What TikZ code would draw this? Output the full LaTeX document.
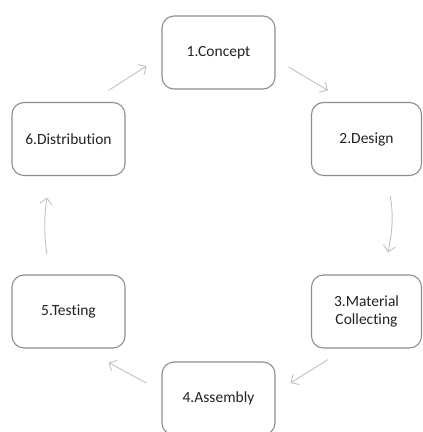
\documentclass[tikz,border=0pt]{standalone}
\usepackage{fontspec}
\setmainfont[Ligatures=NoCommon]{Carlito}
\usetikzlibrary{arrows.meta,calc}
\definecolor{boxline}{HTML}{8E8E8E}
\definecolor{arrline}{HTML}{C2C2C2}
\definecolor{txt}{HTML}{222222}
\begin{document}
\begin{tikzpicture}[x=1pt,y=-1pt,
  stage/.style={draw=boxline, line width=1.1pt, rounded corners=12pt, minimum width=113pt, minimum height=73pt, inner sep=0pt, align=center, text=txt, font=\fontsize{15.5}{18}\selectfont},
  narrow/.style={minimum width=110pt},
  arr/.style={draw=arrline, line width=0.9pt, -{Straight Barb[length=6pt,width=12pt]}}]
\useasboundingbox (0,0) rectangle (423,432);
\fill[white] (0,0) rectangle (423,432);
\node[stage] (c1) at (218.5,52.5) {1.Concept};
\node[stage,narrow] (c2) at (366.5,139) {2.Design};
\node[stage,narrow] (c3) at (366.5,311.5) {3.Material\\Collecting};
\node[stage] (c4) at (218.5,398.5) {4.Assembly};
\node[stage] (c5) at (68.5,311.5) {5.Testing};
\node[stage] (c6) at (68.5,139) {6.Distribution};
\draw[arr] ($(c1.east)+(13,14.5)$) -- ($(c2.north west)+(17,-11.5)$);
\draw[arr] ($(c2.south)+(23.5,19.5)$) .. controls +(4,19) and +(4,-19) .. ($(c3.north)+(21.5,-22)$);
\draw[arr] ($(c3.south west)+(17,11)$) -- ($(c4.east)+(15,-15.5)$);
\draw[arr] ($(c4.west)+(-15,-15.5)$) -- ($(c5.south east)+(-17,14)$);
\draw[arr] ($(c5.north)+(-21.5,-20)$) .. controls +(-3,-19) and +(-3,19) .. ($(c6.south)+(-21.5,21.5)$);
\draw[arr] ($(c6.north east)+(-17,-11.5)$) -- ($(c1.west)+(-15,13.5)$);
\end{tikzpicture}
\end{document}
